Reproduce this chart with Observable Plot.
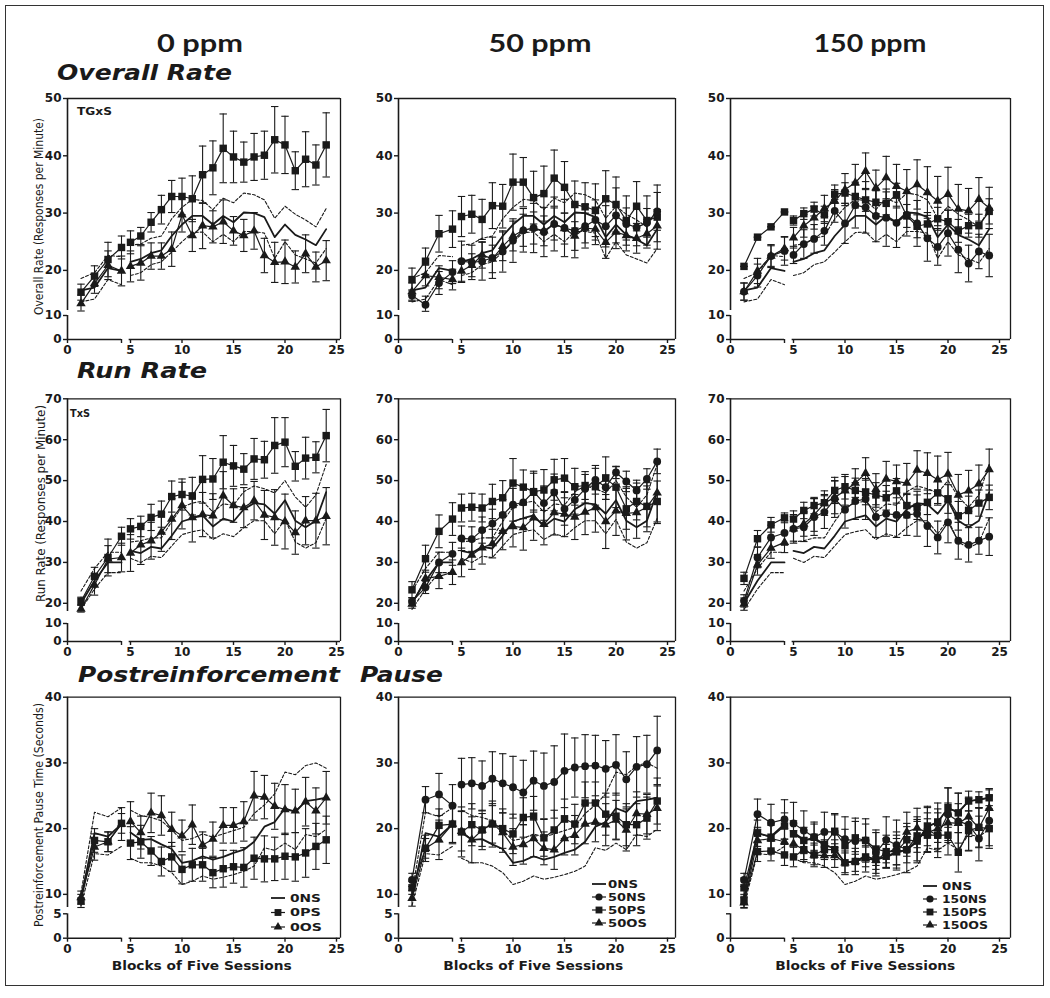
<!DOCTYPE html>
<html><head><meta charset="utf-8">
<script src="https://cdn.jsdelivr.net/npm/d3@7"></script>
<script src="https://cdn.jsdelivr.net/npm/@observablehq/plot@0.6"></script>
<style>
body{margin:0;background:#fff;}
#fig{position:relative;width:1050px;height:998px;overflow:hidden;background:#fff;}
#border{position:absolute;left:5px;top:5px;width:1039px;height:981px;border:1.5px solid #333;box-sizing:border-box;}
</style></head><body><div id="fig"><div id="border"></div></div>
<script>
// ---------------- DATA ----------------
const blocks = [1,2,3,4,5,6,7,8,9,10,11,12,13,14,15,16,17,18,19,20,21,22,23,24];
const xTicks = [0,4,5,10,15,20,25];

// Overall Rate (responses per minute)
const OR_ONS    = [16.5,17.0,20.4,19.9,21.5,22.0,23.0,23.5,26.0,28.0,29.5,29.5,28.0,29.5,28.4,30.1,30.0,29.3,25.8,28.0,26.2,25.4,24.4,27.2];
const OR_ONS_hi = [18.6,19.6,22.6,22.4,24.4,24.6,25.6,26.0,29.0,31.0,32.4,32.2,30.6,32.6,31.8,33.5,33.2,32.3,29.1,31.2,29.8,28.8,27.6,30.8];
const OR_ONS_lo = [14.5,15.0,18.4,17.5,19.1,19.6,21.0,21.5,23.2,25.0,26.6,26.7,25.0,26.3,25.0,26.8,26.8,26.5,22.1,25.0,22.7,22.0,21.3,23.8];
const OR_0PS    = [16.2,19.0,21.9,24.0,24.9,26.0,28.4,30.6,32.9,32.9,32.5,36.7,37.9,41.3,39.8,38.9,39.8,40.1,42.8,41.9,37.4,39.4,38.4,41.9];
const OR_0PS_se = [1.4,1.8,3.0,2.0,2.0,1.5,1.7,2.5,2.8,3.2,4.0,5.0,4.7,6.0,4.5,3.5,4.1,4.2,5.8,5.0,3.3,4.8,3.5,5.6];
const OR_0OS    = [14.2,17.7,20.9,19.9,20.7,21.3,22.5,22.5,23.7,29.7,26.1,27.8,27.6,28.5,26.9,26.1,26.9,22.6,21.4,21.5,20.6,22.9,20.6,21.7];
const OR_0OS_se = [1.5,1.7,2.5,2.6,2.7,3.0,2.3,2.3,3.0,3.0,2.8,4.0,2.8,3.8,2.5,2.8,3.2,3.0,3.5,3.8,2.8,3.3,2.6,3.5];
const OR_50NS    = [15.6,14.0,17.8,19.7,21.6,21.4,21.6,22.2,23.3,25.2,27.0,27.4,26.7,28.1,27.4,26.9,27.7,28.8,27.7,29.6,28.1,27.5,28.3,30.3];
const OR_50NS_se = [1.0,1.5,2.0,2.0,3.5,3.0,3.3,3.6,3.6,3.8,3.8,4.3,4.3,4.7,5.0,4.7,3.8,3.5,3.6,4.8,2.8,3.2,2.5,3.3];
const OR_50PS    = [18.4,21.6,26.4,27.2,29.4,29.8,28.9,31.3,31.2,35.4,35.4,32.7,33.4,36.1,34.5,31.5,31.1,30.5,32.5,31.5,28.7,31.2,28.7,29.3];
const OR_50PS_se = [2.0,2.3,3.2,3.2,3.5,3.3,3.5,4.0,3.8,4.9,4.3,4.6,4.8,4.9,4.5,4.1,4.2,4.6,4.9,4.8,4.3,4.3,4.3,5.6];
const OR_50OS    = [16.3,19.1,18.8,18.4,19.9,20.9,22.7,22.0,24.2,26.0,27.0,27.4,26.9,28.1,27.3,26.0,27.4,27.2,24.9,26.7,26.1,25.6,26.4,27.8];
const OR_50OS_se = [1.5,1.8,2.0,1.8,2.0,2.0,2.3,2.4,2.5,2.6,2.8,2.8,2.6,2.8,2.7,2.5,2.6,2.7,2.8,2.9,2.7,2.6,2.5,2.8];
const OR_150NS    = [16.3,19.1,22.5,23.4,22.7,24.6,25.5,26.9,30.4,28.2,31.4,31.0,29.5,29.2,28.3,29.7,28.2,25.6,24.1,26.5,23.6,21.2,23.3,22.6];
const OR_150NS_se = [1.5,2.0,2.0,2.5,1.5,2.5,2.5,2.5,2.0,3.5,4.0,4.5,4.5,5.0,4.3,3.7,4.0,4.0,3.2,4.0,4.0,3.2,3.0,3.7];
const OR_150PS    = [20.7,25.8,27.6,30.2,28.7,29.9,30.7,29.7,33.3,33.5,32.9,32.3,31.9,31.7,33.2,29.5,27.7,28.1,29.0,28.5,26.9,27.8,27.8,30.3];
const OR_150PS_se = [0,0,0,0,0.8,1.0,1.2,1.5,1.6,1.8,2.0,2.0,2.0,2.0,2.0,2.0,2.0,2.0,2.0,2.0,2.0,2.0,2.0,2.2];
const OR_150OS    = [16.3,19.9,22.5,23.8,25.7,27.8,29.2,30.8,32.1,34.1,35.3,37.3,34.4,36.2,34.7,33.8,35.0,33.6,32.1,33.3,30.7,30.4,32.4,30.9];
const OR_150OS_se = [1.5,2.2,1.8,2.0,1.8,2.0,2.0,2.3,2.0,2.8,3.2,3.2,3.1,3.7,3.8,3.8,4.3,4.5,4.3,4.7,4.3,3.9,3.8,3.6];

// Run Rate (responses per minute)
const RR_ONS    = [20.0,25.5,30.0,30.0,32.8,32.3,33.8,33.4,36.5,40.0,40.8,41.5,38.8,40.7,40.0,43.0,44.5,44.2,41.9,45.2,40.2,38.6,40.2,47.2];
const RR_ONS_hi = [23.0,28.5,32.5,32.5,35.0,35.3,36.0,36.0,40.0,43.5,44.5,45.0,42.3,44.3,44.0,47.3,48.7,48.0,47.0,50.0,46.0,43.5,46.5,54.0];
const RR_ONS_lo = [18.5,23.5,27.5,27.5,31.0,30.0,31.5,31.2,34.0,36.8,37.5,38.0,35.6,37.0,36.3,38.5,40.2,40.2,37.0,40.5,35.0,33.5,34.8,40.8];
const RR_0PS    = [20.5,26.6,31.2,36.4,38.2,38.8,41.0,41.8,46.1,46.6,46.2,50.3,50.4,54.5,53.6,52.8,55.3,55.1,58.6,59.4,53.5,55.5,55.7,61.0];
const RR_0PS_se = [1.0,2.2,4.5,2.2,2.5,2.5,3.2,3.2,3.8,3.8,4.6,5.8,5.0,6.5,5.0,3.8,5.0,4.5,6.8,6.0,3.6,5.1,3.8,6.4];
const RR_0OS    = [18.6,24.5,30.8,31.2,32.3,34.3,35.3,37.4,40.6,43.9,41.0,41.7,41.4,46.3,43.9,43.4,45.1,41.6,41.0,40.0,37.3,40.2,40.2,41.3];
const RR_0OS_se = [1.0,2.5,3.3,3.5,4.5,4.8,4.5,4.7,5.0,5.7,6.0,5.4,5.4,5.9,4.1,4.9,4.7,6.0,6.8,6.7,5.3,5.9,6.7,7.0];
const RR_50NS    = [20.4,23.9,30.0,32.1,35.9,35.7,37.9,39.5,41.6,44.1,44.7,47.3,44.5,47.1,43.1,45.3,48.0,50.2,48.4,52.0,49.8,47.6,50.4,54.7];
const RR_50NS_se = [1.0,1.5,2.5,2.8,3.0,3.0,3.2,3.5,3.8,4.0,4.0,4.5,4.2,4.5,4.0,3.5,3.5,3.5,3.0,1.5,2.5,2.5,2.5,3.0];
const RR_50PS    = [23.3,30.9,37.6,40.6,43.3,43.5,43.3,44.9,45.8,49.4,48.4,47.3,47.7,50.2,50.6,48.5,48.8,48.5,50.6,48.4,43.1,44.9,43.7,44.9];
const RR_50PS_se = [2.0,3.3,4.0,4.0,3.4,3.4,3.4,4.2,4.2,6.0,4.2,5.0,5.0,5.0,4.8,4.5,3.4,4.5,5.2,5.0,5.0,4.5,5.0,5.0];
const RR_50OS    = [19.8,26.1,26.6,27.6,30.0,31.8,33.6,34.6,37.6,38.8,38.5,40.9,39.3,42.2,41.8,41.1,42.3,43.4,40.0,42.6,42.0,42.2,43.5,47.0];
const RR_50OS_se = [1.0,2.0,3.0,3.0,3.5,3.5,4.0,3.5,4.5,5.0,5.5,5.5,5.0,5.5,5.5,5.5,5.5,6.0,6.6,6.0,6.5,6.3,6.0,7.5];
const RR_150NS    = [20.6,31.2,36.1,37.2,38.2,38.6,41.1,42.3,45.5,42.9,45.0,45.5,41.1,41.9,41.6,41.6,41.9,38.9,36.1,39.8,35.3,34.3,35.3,36.3];
const RR_150NS_se = [1.5,2.5,3.0,3.0,3.5,3.5,4.5,4.0,4.5,4.5,4.5,5.0,5.0,5.5,5.5,5.0,5.5,5.0,4.0,5.0,4.5,4.2,3.3,4.6];
const RR_150PS    = [26.1,35.8,39.2,40.9,40.6,42.7,43.9,44.6,47.6,48.5,47.6,47.1,46.5,45.8,47.5,43.9,43.5,44.7,47.0,45.5,41.4,42.7,44.5,45.9];
const RR_150PS_se = [1.5,2.0,1.8,1.2,2.0,2.0,2.0,2.0,3.2,3.0,3.0,3.0,3.0,3.0,3.0,3.0,3.0,3.0,3.0,3.5,3.5,3.5,3.2,3.0];
const RR_150OS    = [19.8,29.4,33.5,34.9,38.2,39.4,41.6,44.5,45.9,47.5,49.4,51.8,47.9,50.4,49.8,49.4,52.6,51.8,50.2,51.6,46.5,47.5,49.2,52.7];
const RR_150OS_se = [1.5,2.5,2.5,2.5,3.0,3.0,4.0,3.0,4.0,3.5,3.5,3.8,3.8,4.3,4.0,4.8,4.7,5.0,5.8,5.3,5.0,5.0,4.6,5.0];

// Postreinforcement pause time (seconds)
const PP_ONS    = [9.5,19.3,18.8,20.7,19.4,18.3,18.4,17.6,16.9,14.8,15.1,15.8,15.3,15.7,16.3,16.8,18.0,20.3,21.0,23.1,22.5,24.2,24.4,24.7];
const PP_ONS_hi = [10.2,22.5,21.8,23.2,22.8,22.0,21.7,21.2,19.8,18.2,18.5,19.2,18.7,19.2,19.7,20.2,22.3,23.6,25.3,28.6,28.2,29.6,30.0,29.2];
const PP_ONS_lo = [8.3,16.2,16.0,17.3,15.5,14.8,14.8,14.3,13.3,11.5,12.0,12.8,12.3,12.6,13.0,13.5,14.3,17.1,16.7,17.8,16.8,19.1,18.8,19.9];
const PP_0PS    = [9.0,18.2,18.0,20.8,17.8,18.0,16.6,15.0,15.7,13.8,14.5,14.5,13.3,13.9,14.2,14.1,15.5,15.4,15.4,15.8,15.7,16.3,17.3,18.3];
const PP_0PS_se = [1.0,1.8,1.5,1.5,2.5,2.5,2.2,2.2,2.2,2.2,2.5,2.5,2.3,2.8,2.5,3.0,3.2,3.5,3.3,3.5,3.7,3.7,3.5,3.6];
const PP_0OS    = [9.5,17.2,18.0,20.7,21.1,19.4,22.4,22.0,19.9,18.9,20.6,17.5,18.4,20.5,20.5,21.1,25.0,24.8,23.4,22.9,22.7,24.1,22.7,24.7];
const PP_0OS_se = [1.0,2.0,1.5,2.5,3.0,2.5,3.0,3.0,2.6,2.4,3.0,2.0,2.6,2.7,2.7,3.0,3.7,3.3,3.5,3.8,3.3,3.7,3.5,4.0];
const PP_50NS    = [12.2,24.4,25.2,23.5,26.7,26.9,26.5,27.6,26.9,26.3,25.5,27.3,26.5,27.1,28.8,29.3,29.5,29.6,29.1,29.7,27.5,29.4,29.8,31.9];
const PP_50NS_se = [1.0,2.0,3.2,3.2,4.0,3.9,3.8,4.1,4.5,4.7,4.9,4.5,5.0,5.5,5.6,4.5,4.8,4.6,4.3,4.6,4.2,4.6,4.4,5.2];
const PP_50PS    = [11.0,17.0,20.5,20.7,19.5,20.6,19.8,20.7,20.0,19.2,21.7,21.9,18.6,19.8,21.5,20.7,23.9,23.9,22.2,21.9,20.6,20.6,21.6,24.2];
const PP_50PS_se = [1.0,1.5,2.5,3.0,3.8,3.2,3.0,3.5,3.0,3.0,3.0,3.0,2.8,3.0,3.0,3.0,3.2,3.2,3.2,3.5,3.2,3.2,3.2,3.5];
const PP_50OS    = [9.4,17.0,18.3,20.7,19.6,18.3,19.8,20.8,19.4,17.2,17.6,18.5,17.0,16.8,18.5,19.0,20.7,21.0,20.6,21.3,19.8,22.3,22.2,23.1];
const PP_50OS_se = [1.2,2.0,3.0,2.8,3.0,3.5,2.5,3.0,3.0,2.8,3.0,2.8,2.5,3.0,2.5,3.0,3.0,3.0,3.2,3.0,3.2,3.3,3.0,3.4];
const PP_150NS    = [12.2,22.2,20.9,21.4,20.8,19.7,18.7,19.5,19.5,18.4,18.1,18.2,16.3,18.3,17.5,16.8,18.3,19.8,19.0,22.2,21.1,20.6,18.5,21.2];
const PP_150NS_se = [1.0,2.3,2.8,3.0,3.2,3.0,2.3,3.0,2.8,3.4,3.5,3.3,3.5,3.5,3.8,3.5,3.5,3.4,3.4,4.0,4.3,4.0,3.4,3.8];
const PP_150PS    = [11.0,19.3,18.7,20.4,19.2,18.2,18.7,17.6,19.6,17.4,18.6,18.2,16.9,16.5,16.5,18.3,18.1,20.4,20.9,23.2,22.4,24.2,24.4,24.7];
const PP_150PS_se = [1.5,2.0,2.0,2.0,2.0,2.0,2.0,2.0,2.5,2.5,2.5,2.5,2.5,2.5,2.5,2.5,3.0,3.0,3.0,3.0,3.0,1.5,1.2,1.2];
const PP_150PSb    = [9.0,16.5,16.6,16.0,15.7,16.8,16.0,16.8,16.8,14.8,15.0,15.7,15.3,15.8,16.5,16.8,18.9,19.0,19.0,19.0,16.4,19.7,20.2,20.0];
const PP_150PSb_se = [1.0,1.5,1.5,1.6,1.5,1.5,1.5,1.5,1.5,1.5,1.5,1.5,1.5,1.8,2.0,2.0,2.5,2.5,2.5,3.0,3.0,3.0,3.0,3.0];
const PP_150OS    = [8.7,18.2,18.5,18.0,17.7,16.8,16.0,15.9,15.9,14.8,15.0,15.4,15.2,16.3,17.0,19.5,20.1,19.4,20.0,20.9,20.8,21.8,20.1,23.1];
const PP_150OS_se = [1.0,2.0,2.0,2.0,2.0,1.8,1.8,1.8,1.8,1.8,2.0,2.0,2.0,2.2,2.5,3.0,3.0,3.0,3.0,3.0,3.0,3.0,3.0,3.0];

// Texts
const doseLabels = ["0 ppm","50 ppm","150 ppm"];
const measureLabels = ["Overall Rate","Run Rate","Postreinforcement","Pause"];
const yTitles = ["Overall Rate (Responses per Minute)","Run Rate (Responses per Minute)","Postreinforcement Pause Time (Seconds)"];
const xTitle = "Blocks of Five Sessions";
const legendLabels = [["0NS","0PS","0OS"],["0NS","50NS","50PS","50OS"],["0NS","150NS","150PS","150OS"]];
const legendShapes = [[null,"square","triangle"],[null,"circle","square","triangle"],[null,"circle","square","triangle"]];

// ---------------- CONFIG ----------------
const rowsCfg = [
  {ons: OR_ONS, hi: OR_ONS_hi, lo: OR_ONS_lo, ticks: [0,10,20,30,40,50], top: 50, lowTop: 10, upBottom: 13,
   yDomain: [0,10,13,50], svgTop: 86, yRange: [253,229,224,12], showHi: [true,true,true],
   groups: [
     [{name:"0PS", shape:"square", m: OR_0PS, se: OR_0PS_se},{name:"0OS", shape:"triangle", m: OR_0OS, se: OR_0OS_se}],
     [{name:"50NS", shape:"circle", m: OR_50NS, se: OR_50NS_se},{name:"50PS", shape:"square", m: OR_50PS, se: OR_50PS_se},{name:"50OS", shape:"triangle", m: OR_50OS, se: OR_50OS_se}],
     [{name:"150NS", shape:"circle", m: OR_150NS, se: OR_150NS_se},{name:"150PS", shape:"square", m: OR_150PS, se: OR_150PS_se},{name:"150OS", shape:"triangle", m: OR_150OS, se: OR_150OS_se}]
   ]},
  {ons: RR_ONS, hi: RR_ONS_hi, lo: RR_ONS_lo, ticks: [0,10,20,30,40,50,60,70], top: 70, lowTop: 10, upBottom: 18,
   yDomain: [0,10,18,70], svgTop: 388, yRange: [253,235,223,10.3], showHi: [true,true,true],
   groups: [
     [{name:"0PS", shape:"square", m: RR_0PS, se: RR_0PS_se},{name:"0OS", shape:"triangle", m: RR_0OS, se: RR_0OS_se}],
     [{name:"50NS", shape:"circle", m: RR_50NS, se: RR_50NS_se},{name:"50PS", shape:"square", m: RR_50PS, se: RR_50PS_se},{name:"50OS", shape:"triangle", m: RR_50OS, se: RR_50OS_se}],
     [{name:"150NS", shape:"circle", m: RR_150NS, se: RR_150NS_se},{name:"150PS", shape:"square", m: RR_150PS, se: RR_150PS_se},{name:"150OS", shape:"triangle", m: RR_150OS, se: RR_150OS_se}]
   ]},
  {ons: PP_ONS, hi: PP_ONS_hi, lo: PP_ONS_lo, ticks: [0,5,10,20,30,40], top: 40, lowTop: 5, upBottom: 8,
   yDomain: [0,5,8,40], svgTop: 686, yRange: [251.7,227.3,221,10.7], showHi: [true,true,false],
   groups: [
     [{name:"0PS", shape:"square", m: PP_0PS, se: PP_0PS_se},{name:"0OS", shape:"triangle", m: PP_0OS, se: PP_0OS_se}],
     [{name:"50NS", shape:"circle", m: PP_50NS, se: PP_50NS_se},{name:"50PS", shape:"square", m: PP_50PS, se: PP_50PS_se},{name:"50OS", shape:"triangle", m: PP_50OS, se: PP_50OS_se}],
     [{name:"150NS", shape:"circle", m: PP_150NS, se: PP_150NS_se},{name:"150PS", shape:"square", m: PP_150PS, se: PP_150PS_se},{name:"150PSb", shape:"square", m: PP_150PSb, se: PP_150PSb_se},{name:"150OS", shape:"triangle", m: PP_150OS, se: PP_150OS_se}]
   ]}
];
const colAxisX = [66.7, 398.3, 730.3];
const frameW = [273, 277, 280];
const ML = 62, SVG_W = 350, SVG_H = 275;
const xDomain = [0,4,5,25];
const xOff = [0,54,63,269];
const xBreakStart = 4.85;
const INK = "#1a1a1a";
const symR = {square: 4.2, circle: 3.9, triangle: 3.5};
const capSymbol = {draw(ctx, size){ const w = Math.sqrt(size); ctx.moveTo(-w,0); ctx.lineTo(w,0); }};

const fig = document.getElementById("fig");

function panel(r, c) {
  const R = rowsCfg[r];
  const xRange = xOff.map(o => ML + o);
  const pxPerUnit = (xOff[3] - xOff[2]) / (xDomain[3] - xDomain[2]);
  const xEnd = xDomain[3] + (frameW[c] - xOff[3]) / pxPerUnit;
  const seg = b => b <= 4 ? "a" : "b";
  const ref = [];
  blocks.forEach((b, i) => {
    ref.push({x: b, y: R.ons[i], k: "mean", z: "mean" + seg(b)});
    if (R.showHi[c]) ref.push({x: b, y: R.hi[i], k: "band", z: "hi" + seg(b)});
    ref.push({x: b, y: R.lo[i], k: "band", z: "lo" + seg(b)});
  });
  const ser = [];
  R.groups[c].forEach(s => blocks.forEach((b, i) => ser.push({x: b, y: s.m[i], se: s.se[i], shape: s.shape, z: s.name + seg(b)})));
  const ink = {stroke: INK};
  const marks = [
    Plot.ruleX([0], {y1: () => R.upBottom, y2: () => R.top, ...ink, strokeWidth: 1.6}),
    Plot.ruleX([0], {y1: () => 0, y2: () => R.lowTop, ...ink, strokeWidth: 1.6}),
    Plot.ruleY([0], {x1: () => 0, x2: () => 4, ...ink, strokeWidth: 1.6}),
    Plot.ruleY([0], {x1: () => xBreakStart, x2: () => xEnd, ...ink, strokeWidth: 1.6}),
    Plot.ruleY([R.top], {x1: () => 0, x2: () => xEnd, ...ink, strokeWidth: 1.3}),
    Plot.ruleX([xEnd], {y1: () => 0, y2: () => R.top, ...ink, strokeWidth: 1.3}),
    Plot.line(ref.filter(d => d.k === "band"), {x: "x", y: "y", z: "z", ...ink, strokeWidth: 1.1, strokeDasharray: "3,2"}),
    Plot.line(ref.filter(d => d.k === "mean"), {x: "x", y: "y", z: "z", ...ink, strokeWidth: 1.8}),
    Plot.ruleX(ser, {x: "x", y1: d => d.y - d.se, y2: d => d.y + d.se, ...ink, strokeWidth: 1.1}),
    Plot.dot(ser, {x: "x", y: d => d.y + d.se, symbol: capSymbol, r: 2.1, fill: "none", ...ink, strokeWidth: 1.1}),
    Plot.dot(ser, {x: "x", y: d => d.y - d.se, symbol: capSymbol, r: 2.1, fill: "none", ...ink, strokeWidth: 1.1}),
    Plot.line(ser, {x: "x", y: "y", z: "z", ...ink, strokeWidth: 1.2}),
    ...["square","circle","triangle"].map(sh => Plot.dot(ser.filter(d => d.shape === sh), {x: "x", y: "y", symbol: sh, r: symR[sh], fill: INK, stroke: "none"})),
    Plot.axisY({ticks: R.ticks, tickSize: 4, tickPadding: 2, label: null, strokeWidth: 1.4,
      tickFormat: d => (r === 2 && c === 2 && d === 5) ? "" : String(d)}),
    Plot.axisX({ticks: xTicks, tickSize: 4, tickPadding: 2, label: null, strokeWidth: 1.4,
      tickFormat: d => d === 4 ? "" : String(d)})
  ];
  const svg = Plot.plot({
    width: SVG_W, height: SVG_H,
    marginLeft: ML, marginRight: SVG_W - ML - frameW[c],
    marginTop: R.yRange[3], marginBottom: SVG_H - R.yRange[0],
    x: {type: "linear", domain: xDomain, range: xRange},
    y: {type: "linear", domain: R.yDomain, range: R.yRange},
    style: {background: "transparent", fontFamily: "'DejaVu Sans', Verdana, sans-serif", fontSize: "12px", fontWeight: "bold", color: INK, overflow: "visible"},
    marks
  });
  svg.style.position = "absolute";
  svg.style.left = (colAxisX[c] - ML) + "px";
  svg.style.top = R.svgTop + "px";
  svg.style.maxWidth = "none";
  fig.appendChild(svg);
}
for (let r = 0; r < 3; r++) for (let c = 0; c < 3; c++) panel(r, c);

// ---------------- TITLES, LABELS, LEGENDS ----------------
const ov = d3.select("#fig").append("svg")
  .attr("width", 1050).attr("height", 998)
  .style("position", "absolute").style("left", "0px").style("top", "0px").style("pointer-events", "none");

function T(s, x, y, o) {
  const t = ov.append("text").text(s).attr("x", x).attr("y", y)
    .attr("font-family", o.family || "'DejaVu Sans', Verdana, sans-serif")
    .attr("font-size", o.size).attr("font-weight", o.weight || "bold").attr("fill", INK);
  if (o.italic) t.attr("font-style", "italic");
  if (o.anchor) t.attr("text-anchor", o.anchor);
  if (o.len) t.attr("textLength", o.len).attr("lengthAdjust", "spacingAndGlyphs");
  if (o.rotate) t.attr("transform", `rotate(-90 ${x} ${y})`).attr("dominant-baseline", "central");
  return t;
}
const headCx = [200, 540, 870], headLen = [86, 103, 113];
doseLabels.forEach((s, i) => T(s, headCx[i], 52, {size: 24, anchor: "middle", len: headLen[i], family: "Lato, 'Open Sans', sans-serif"}));
T(measureLabels[0], 57, 80, {size: 22, italic: true, len: 175});
T(measureLabels[1], 77, 378, {size: 22, italic: true, len: 130});
T(measureLabels[2], 78, 682, {size: 22, italic: true, len: 262});
T(measureLabels[3], 360, 682, {size: 22, italic: true, len: 83});
const yT = [[38.5, 216.5, 197], [40, 503.5, 197], [38.5, 815, 224]];
yTitles.forEach((s, i) => T(s, yT[i][0], yT[i][1], {size: 13, weight: "normal", anchor: "middle", len: yT[i][2], rotate: true,
  family: "'DejaVu Sans Condensed', 'Liberation Sans Narrow', Roboto, sans-serif"}));
colAxisX.forEach(ax => T(xTitle, ax + 135, 970, {size: 12, anchor: "middle", len: 180}));
T("TGxS", 77, 115, {size: 10, len: 35});
T("TxS", 70, 417, {size: 10, len: 20});
const legX = [278, 599, 930], legTx = [290, 608, 942];
const legY = [[898, 912.5, 927], [884, 897, 910, 923], [886, 899, 912, 925]];
const legLen = [[31, 31, 32], [30, 38, 38, 39], [30, 45, 45, 46]];
const d3sym = {square: d3.symbolSquare, circle: d3.symbolCircle, triangle: d3.symbolTriangle};
legendLabels.forEach((labs, c) => labs.forEach((lab, k) => {
  const y = legY[c][k], cx = legX[c];
  ov.append("line").attr("x1", cx - 7).attr("x2", cx + 7).attr("y1", y).attr("y2", y).attr("stroke", INK).attr("stroke-width", k === 0 ? 1.8 : 1.2);
  const sh = legendShapes[c][k];
  if (sh) ov.append("path").attr("d", d3.symbol(d3sym[sh], Math.PI * symR[sh] * symR[sh] * 0.85)()).attr("transform", `translate(${cx},${y})`).attr("fill", INK);
  T(lab, legTx[c], y, {size: 11, len: legLen[c][k]}).attr("dominant-baseline", "central");
}));
</script></body></html>
